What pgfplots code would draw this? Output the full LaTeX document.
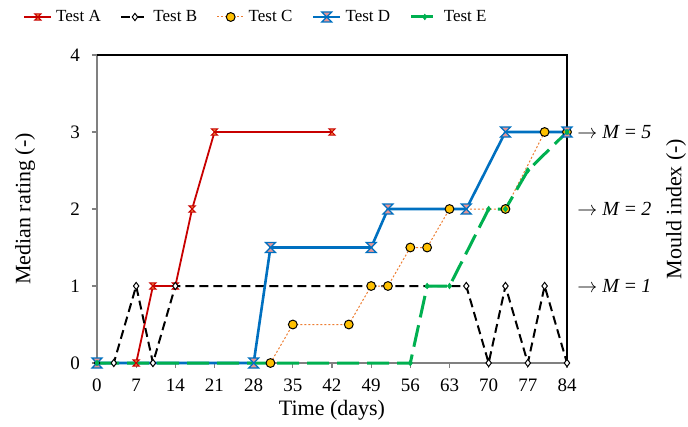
\documentclass[border=0pt]{standalone}
\usepackage{pgfplots}
\pgfplotsset{compat=1.18}
\usepackage{fontspec}
\setmainfont{Liberation Serif}
\definecolor{cA}{RGB}{200,0,0}
\definecolor{cAf}{RGB}{240,130,60}
\definecolor{cB}{RGB}{0,0,0}
\definecolor{cC}{RGB}{237,125,49}
\definecolor{cCf}{RGB}{255,192,0}
\definecolor{cD}{RGB}{0,112,192}
\definecolor{cDf}{RGB}{230,150,150}
\definecolor{cE}{RGB}{0,176,80}
\definecolor{axgray}{RGB}{128,128,128}
\pgfdeclareplotmark{hourglass}{%
 \pgfpathmoveto{\pgfpoint{-\pgfplotmarksize}{\pgfplotmarksize}}%
 \pgfpathlineto{\pgfpoint{\pgfplotmarksize}{\pgfplotmarksize}}%
 \pgfpathlineto{\pgfpoint{-\pgfplotmarksize}{-\pgfplotmarksize}}%
 \pgfpathlineto{\pgfpoint{\pgfplotmarksize}{-\pgfplotmarksize}}%
 \pgfpathclose
 \pgfusepathqfillstroke}
\begin{document}
\begin{tikzpicture}
\begin{axis}[
  name=ax,
  scale only axis, width=235pt, height=154pt,
  xmin=0, xmax=84, ymin=0, ymax=4,
  xtick={0,7,...,84}, ytick={0,1,2,3,4},
  axis lines=left,
  axis line style={-, draw=axgray, line width=0.6pt},
  tick style={draw=axgray, line width=0.6pt},
  tick align=outside, major tick length=2.5pt,
  clip=false,
  /pgf/number format/assume math mode=true,
  ticklabel style={font=\fontsize{9.5}{11}\selectfont},
  xticklabel style={yshift=-2pt},
  yticklabel style={xshift=-2.5pt},
  xlabel={Time (days)}, ylabel={Median rating (-)},
  label style={font=\fontsize{11}{13}\selectfont},
  xlabel style={at={(axis description cs:0.5,-0.1526)}, anchor=center},
  ylabel style={at={(axis description cs:-0.153,0.5)}, anchor=center},
  legend columns=5,
  legend style={draw=none, fill=none, at={(axis description cs:-0.1574,1.1234)}, anchor=west,
    font=\fontsize{8.5}{10}\selectfont, inner sep=0pt,
    /tikz/every odd column/.append style={column sep=0pt},
    /tikz/every even column/.append style={column sep=7.8pt}},
  legend image code/.code={\draw[mark repeat=2,mark phase=2,#1] plot coordinates {(0pt,0pt) (6.75pt,0pt) (13.5pt,0pt)};},
]
\addplot[cA, line width=0.9pt, mark=hourglass, mark size=1.6pt, mark options={solid, draw=cA, fill=cAf, line width=0.5pt}]
  coordinates {(0,0) (7,0) (10,1) (14,1) (17,2) (21,3) (42,3)};
\addlegendentry{Test A}
\addplot[cB, line width=1pt, dash pattern=on 4.5pt off 2.5pt, mark=diamond*, mark size=1.8pt, mark options={solid, draw=black, fill=white, line width=0.5pt}]
  coordinates {(0,0) (3,0) (7,1) (10,0) (14,1) (66,1) (70,0) (73,1) (77,0) (80,1) (84,0)};
\addlegendentry{Test B}
\addplot[cC, line width=0.5pt, dash pattern=on 1pt off 1pt, mark=*, mark size=2.2pt, mark options={solid, draw=black, fill=cCf, line width=0.5pt}]
  coordinates {(31,0) (35,0.5) (45,0.5) (49,1) (52,1) (56,1.5) (59,1.5) (63,2) (73,2) (80,3) (84,3)};
\addlegendentry{Test C}
\addplot[cD, line width=1.3pt, mark=hourglass, mark size=2.5pt, mark options={solid, draw=cD, fill=cDf, line width=0.6pt}]
  coordinates {(0,0) (28,0) (31,1.5) (49,1.5) (52,2) (66,2) (73,3) (84,3)};
\addlegendentry{Test D}
\addplot[cE, line width=1.5pt, dash pattern=on 11pt off 4pt, mark=diamond*, mark size=1.4pt, mark options={solid, draw=cE, fill=cE, line width=0.3pt}]
  coordinates {(0,0) (56,0) (59,1) (63,1) (70,2) (73,2) (77,2.5) (84,3)};
\addlegendentry{Test E}
\draw[black, line width=0.6pt] (rel axis cs:0,1) -- (rel axis cs:1,1) -- (rel axis cs:1,0);
\node[anchor=west, inner sep=0pt, font=\fontsize{10}{12}\selectfont] at ([xshift=5pt]axis cs:84,3) {$\rightarrow$ \textit{M} = \textit{5}};
\node[anchor=west, inner sep=0pt, font=\fontsize{10}{12}\selectfont] at ([xshift=5pt]axis cs:84,2) {$\rightarrow$ \textit{M} = \textit{2}};
\node[anchor=west, inner sep=0pt, font=\fontsize{10}{12}\selectfont] at ([xshift=5pt]axis cs:84,1) {$\rightarrow$ \textit{M} = \textit{1}};
\node[rotate=90, anchor=center, inner sep=0pt, font=\fontsize{11}{13}\selectfont] at (axis description cs:1.232,0.5) {Mould index (-)};
\end{axis}
\path (ax.south west) ++(-48.5pt,-30.5pt) rectangle ++(344pt,212pt);
\end{tikzpicture}
\end{document}
